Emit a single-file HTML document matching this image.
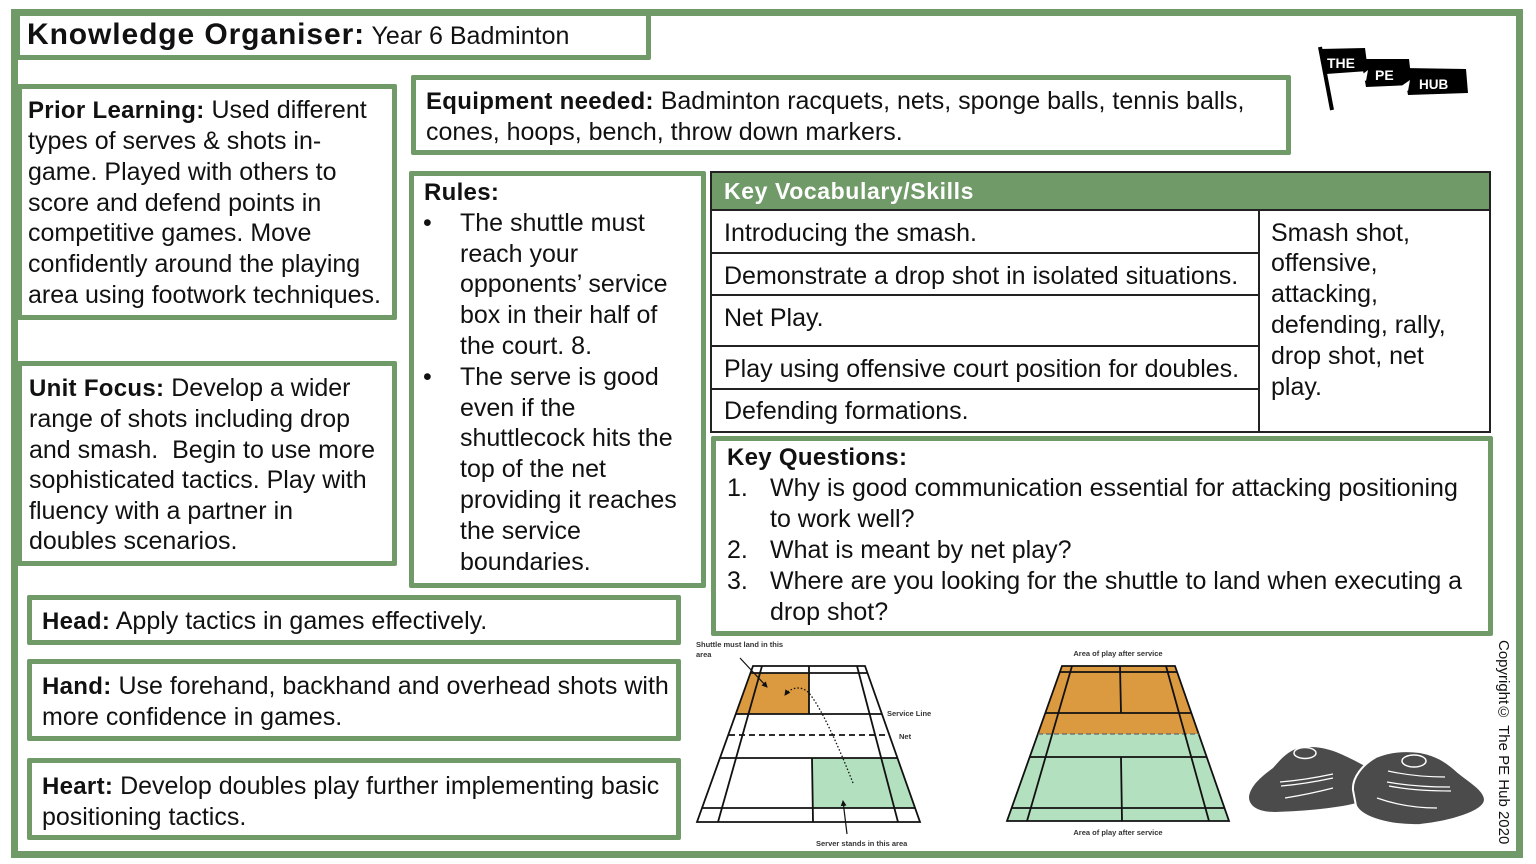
<!DOCTYPE html>
<html><head><meta charset="utf-8">
<style>
*{box-sizing:border-box;margin:0;padding:0}
html,body{width:1536px;height:864px;overflow:hidden;background:#fff}
body{position:relative;font-family:"Liberation Sans",sans-serif;color:#111}
.box{position:absolute;border:5px solid #709a68;background:#fff;border-radius:2px}
.t{position:absolute;font-size:25px;line-height:30.8px;white-space:nowrap;color:#111}
.t b{font-size:24px;letter-spacing:0.3px}
.ln{position:absolute;background:#222}
.cell{position:absolute;font-size:25px;line-height:30px;white-space:nowrap;color:#111}
</style></head><body>

<!-- outer frame -->
<div style="position:absolute;left:11px;top:9px;width:1512px;height:849px;border:7px solid #709a68"></div>

<!-- title -->
<div class="box" style="left:15px;top:11px;width:636px;height:49px"></div>
<div class="t" style="left:27px;top:12px;line-height:46px"><b style="font-size:30px;letter-spacing:0.9px">Knowledge Organiser:</b> Year 6 Badminton</div>

<!-- prior learning -->
<div class="box" style="left:17px;top:84px;width:380px;height:236px"></div>
<div class="t" style="left:28px;top:94.6px;line-height:30.7px"><b>Prior Learning:</b> Used different<br>types of serves &amp; shots in-<br>game. Played with others to<br>score and defend points in<br>competitive games. Move<br>confidently around the playing<br>area using footwork techniques.</div>

<!-- unit focus -->
<div class="box" style="left:17px;top:361px;width:380px;height:205px"></div>
<div class="t" style="left:29px;top:372.6px;line-height:30.5px"><b>Unit Focus:</b> Develop a wider<br>range of shots including drop<br>and smash.&nbsp; Begin to use more<br>sophisticated tactics. Play with<br>fluency with a partner in<br>doubles scenarios.</div>

<!-- equipment -->
<div class="box" style="left:411px;top:75px;width:880px;height:80px"></div>
<div class="t" style="left:426px;top:86px;line-height:30px"><b>Equipment needed:</b> Badminton racquets, nets, sponge balls, tennis balls,<br>cones, hoops, bench, throw down markers.</div>

<!-- rules -->
<div class="box" style="left:409px;top:171px;width:297px;height:417px"></div>
<div class="t" style="left:424px;top:177px"><b>Rules:</b></div>
<div class="t" style="left:423px;top:207.8px">•</div>
<div class="t" style="left:423px;top:361.8px">•</div>
<div class="t" style="left:460px;top:207.8px">The shuttle must<br>reach your<br>opponents’ service<br>box in their half of<br>the court. 8.<br>The serve is good<br>even if the<br>shuttlecock hits the<br>top of the net<br>providing it reaches<br>the service<br>boundaries.</div>

<!-- vocab table -->
<div style="position:absolute;left:710px;top:171px;width:781px;height:262px;border:2px solid #222;background:#fff"></div>
<div style="position:absolute;left:712px;top:173px;width:777px;height:37px;background:#709a68"></div>
<div style="position:absolute;left:724px;top:176px;font-size:23px;line-height:30px;font-weight:bold;color:#fff;letter-spacing:0.6px;white-space:nowrap">Key Vocabulary/Skills</div>
<div class="ln" style="left:710px;top:209px;width:781px;height:2px"></div>
<div class="ln" style="left:710px;top:252px;width:550px;height:2px"></div>
<div class="ln" style="left:710px;top:294px;width:550px;height:2px"></div>
<div class="ln" style="left:710px;top:345px;width:550px;height:2px"></div>
<div class="ln" style="left:710px;top:388px;width:550px;height:2px"></div>
<div class="ln" style="left:1258px;top:210px;width:2px;height:222px"></div>
<div class="cell" style="left:724px;top:218px">Introducing the smash.</div>
<div class="cell" style="left:724px;top:261px">Demonstrate a drop shot in isolated situations.</div>
<div class="cell" style="left:724px;top:303px">Net Play.</div>
<div class="cell" style="left:724px;top:354px">Play using offensive court position for doubles.</div>
<div class="cell" style="left:724px;top:396px">Defending formations.</div>
<div class="cell" style="left:1271px;top:217.6px;line-height:30.8px">Smash shot,<br>offensive,<br>attacking,<br>defending, rally,<br>drop shot, net<br>play.</div>

<!-- key questions -->
<div class="box" style="left:711px;top:436px;width:782px;height:200px"></div>
<div class="t" style="left:727px;top:441.6px"><b>Key Questions:</b></div>
<div class="t" style="left:727px;top:473.4px">1.<br><br>2.<br>3.</div>
<div class="t" style="left:770px;top:473.4px">Why is good communication essential for attacking positioning<br>to work well?<br>What is meant by net play?<br>Where are you looking for the shuttle to land when executing a<br>drop shot?</div>

<!-- head hand heart -->
<div class="box" style="left:27px;top:595px;width:654px;height:50px"></div>
<div class="t" style="left:42px;top:606px;line-height:30px"><b>Head:</b> Apply tactics in games effectively.</div>
<div class="box" style="left:27px;top:659px;width:654px;height:82px"></div>
<div class="t" style="left:42px;top:671px;line-height:30px"><b>Hand:</b> Use forehand, backhand and overhead shots with<br>more confidence in games.</div>
<div class="box" style="left:27px;top:758px;width:654px;height:82px"></div>
<div class="t" style="left:42px;top:771px;line-height:30px"><b>Heart:</b> Develop doubles play further implementing basic<br>positioning tactics.</div>

<!-- copyright -->
<div style="position:absolute;left:1495px;top:640px;writing-mode:vertical-rl;font-size:15px;line-height:16px;white-space:nowrap;color:#111">Copyright© The PE Hub 2020</div>

<!-- graphics -->
<svg width="1536" height="864" style="position:absolute;left:0;top:0" xmlns="http://www.w3.org/2000/svg">
<defs>
<marker id="ah" markerWidth="6" markerHeight="6" refX="5" refY="3" orient="auto" markerUnits="userSpaceOnUse">
<path d="M0,0 L6,3 L0,6 Z" fill="#111"/></marker>
</defs>
<!-- logo -->
<g>
<line x1="1320" y1="47" x2="1332" y2="110" stroke="#000" stroke-width="4"/>
<polygon points="1320,49 1365,48 1368,71 1326,74" fill="#000"/>
<polygon points="1361,59 1409,59 1412,85 1366,87" fill="#000"/>
<polygon points="1359,77 1368,70 1366,81" fill="#fff"/>
<polygon points="1403,68 1466,69 1468,93 1408,95" fill="#000"/>
<polygon points="1400,87 1410,80 1408,91" fill="#fff"/>
<text x="1327" y="68" font-family="Liberation Sans, sans-serif" font-weight="bold" font-size="14" fill="#fff">THE</text>
<text x="1375" y="80" font-family="Liberation Sans, sans-serif" font-weight="bold" font-size="14" fill="#fff">PE</text>
<text x="1419" y="89" font-family="Liberation Sans, sans-serif" font-weight="bold" font-size="13.5" fill="#fff">HUB</text>
</g>

<!-- court 1 -->
<g stroke="#111" stroke-width="1.8" fill="none">
<polygon points="751,673 809,673 809,714 736,714" fill="#dc9a40" stroke="none"/>
<polygon points="812,758 897,758 915,808 812,808" fill="#b3e0bf" stroke="none"/>
<polygon points="753,666 865,666 920,822 697,822"/>
<line x1="750" y1="673" x2="868" y2="673"/>
<line x1="736" y1="714" x2="882" y2="714"/>
<line x1="720" y1="758" x2="897" y2="758"/>
<line x1="702" y1="808" x2="915" y2="808"/>
<line x1="729" y1="735" x2="888" y2="735" stroke-dasharray="6,4"/>
<line x1="762" y1="666" x2="718" y2="822"/>
<line x1="857" y1="666" x2="898" y2="822"/>
<line x1="809" y1="666" x2="809" y2="714"/>
<line x1="812" y1="758" x2="813" y2="822"/>
<line x1="740" y1="658" x2="767" y2="687" stroke-width="1.2" marker-end="url(#ah)"/>
<path d="M853,783 C838,745 820,705 808,692 C800,685 790,688 785,695" stroke-width="1.3" stroke-dasharray="1.5,2" marker-end="url(#ah)"/>
<line x1="847" y1="834" x2="843" y2="801" stroke-width="1.2" marker-end="url(#ah)"/>
</g>
<g font-family="Liberation Sans, sans-serif" font-weight="bold" font-size="7.5" fill="#333">
<text x="696" y="647">Shuttle must land in this</text>
<text x="696" y="657">area</text>
<text x="887" y="716">Service Line</text>
<text x="899" y="739">Net</text>
<text x="816" y="846">Server stands in this area</text>
<text x="1118" y="656" text-anchor="middle">Area of play after service</text>
<text x="1118" y="835" text-anchor="middle">Area of play after service</text>
</g>

<!-- court 2 -->
<g stroke="#111" stroke-width="1.8" fill="none">
<polygon points="1062,666 1175,666 1198.7,734 1037.9,734" fill="#dc9a40" stroke="none"/>
<polygon points="1037.9,734 1198.7,734 1229,821 1007,821" fill="#b3e0bf" stroke="none"/>
<polygon points="1062,666 1175,666 1229,821 1007,821"/>
<line x1="1060" y1="672" x2="1177" y2="672"/>
<line x1="1045" y1="713" x2="1191" y2="713"/>
<line x1="1038" y1="734" x2="1199" y2="734" stroke="#666" stroke-width="1.2" stroke-dasharray="5,3"/>
<line x1="1030" y1="757" x2="1207" y2="757"/>
<line x1="1012" y1="808" x2="1224" y2="808"/>
<line x1="1072" y1="666" x2="1027" y2="821"/>
<line x1="1166" y1="666" x2="1209" y2="821"/>
<line x1="1120" y1="666" x2="1121" y2="713"/>
<line x1="1121" y1="757" x2="1122" y2="821"/>
</g>

<!-- cones -->
<g>
<path d="M1249,797 C1250,786 1262,776 1273,768 C1280,760 1287,752 1296,749 C1305,746 1320,746 1336,752 C1348,757 1358,762 1368,768 L1360,802 C1340,808 1305,811 1275,812 C1258,812 1249,806 1249,797 Z" fill="#4b4b4b"/>
<ellipse cx="1305" cy="753" rx="11" ry="5.5" fill="none" stroke="#fff" stroke-width="1.5"/>
<path d="M1280,782 Q1305,780 1333,774 M1281,786 Q1305,784 1333,778 M1285,798 Q1310,794 1333,788" stroke="#fff" stroke-width="1.2" fill="none"/>
<path d="M1353,790 C1352,778 1362,765 1376,757 C1390,751 1405,750 1420,752 C1435,755 1445,760 1458,772 C1470,782 1485,790 1485,800 C1484,812 1450,822 1420,825 C1390,826 1362,818 1356,806 Z" fill="#4b4b4b" stroke="#fff" stroke-width="2"/>
<ellipse cx="1414" cy="761" rx="12" ry="6" fill="none" stroke="#fff" stroke-width="1.5"/>
<path d="M1388,771 Q1415,777 1445,777 M1387,782 Q1415,787 1450,787 M1389,786 Q1415,791 1451,791 M1377,798 Q1405,808 1437,808" stroke="#fff" stroke-width="1.2" fill="none"/>
</g>
</svg>
</body></html>
